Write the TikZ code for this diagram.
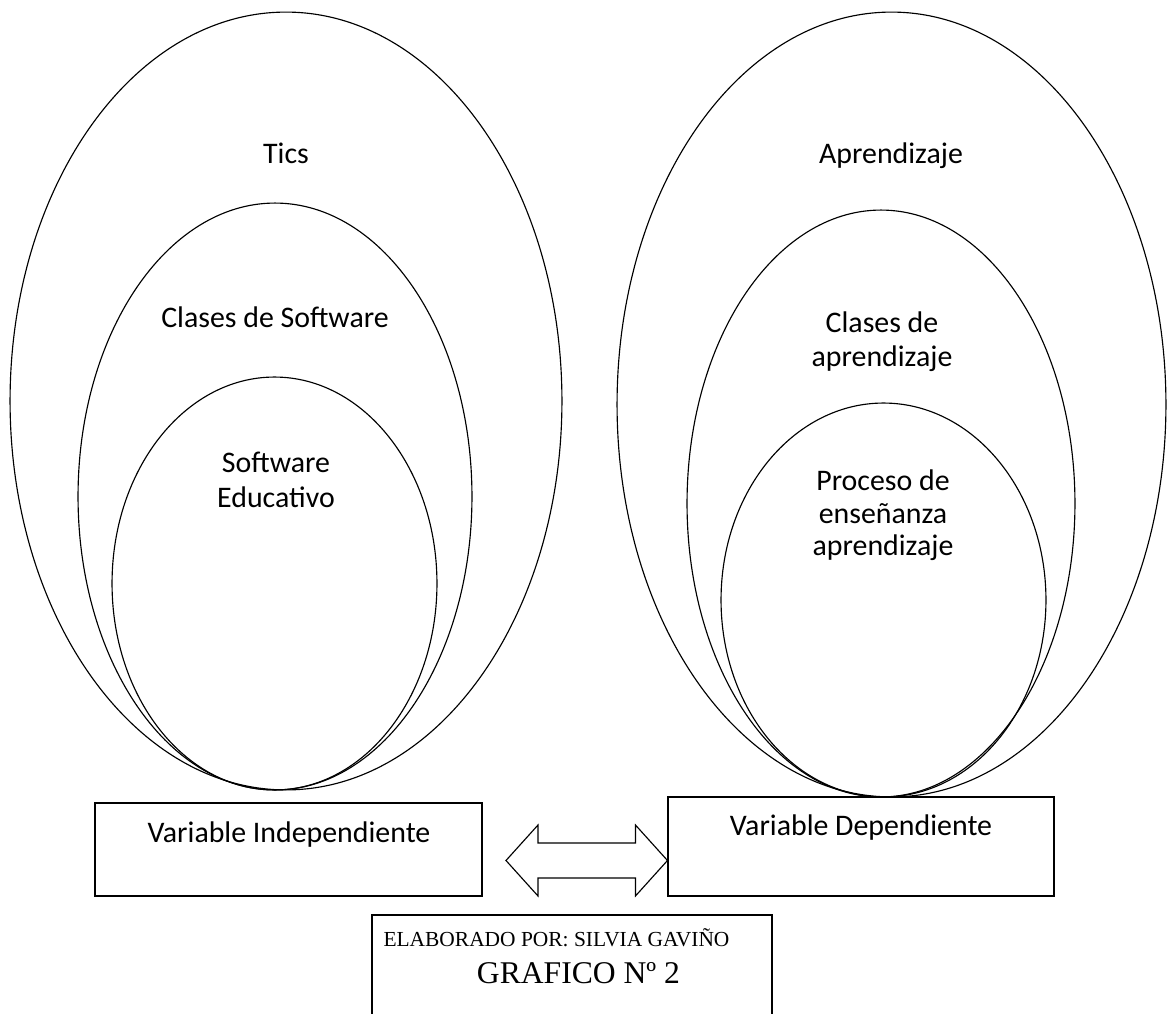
\documentclass[tikz,border=0pt]{standalone}
\usepackage{fontspec}
\setmainfont{Carlito}
\newfontfamily\timesfont{Liberation Serif}
\usetikzlibrary{shapes.geometric, positioning, calc}

\begin{document}
\begin{tikzpicture}[
        x=0.02cm, y=-0.02cm,
        ring/.style={ellipse, draw, line width=0.65pt, inner sep=0pt},
        lbl/.style={font=\fontsize{17}{20}\selectfont, align=center, inner sep=0pt},
        varbox/.style={rectangle, draw, line width=0.65pt, inner sep=0pt},
        dblarrow/.style={draw, line width=0.65pt, line join=miter}
        ]
        \useasboundingbox (0,0) rectangle (1171,1014);
        \clip (0,0) rectangle (1171,1014);

        %% Independent variable (left)
        \node[ring, minimum width=11.04cm, minimum height=15.56cm] (tics) at (286,401) {};
        \node[ring, minimum width=7.88cm, minimum height=11.74cm] (clsoft) at (275,496.5) {};
        \node[ring, minimum width=6.50cm, minimum height=8.26cm] (softedu) at (274.5,583.5) {};
        \node[lbl] (ticsL) at (286,153) {Tics};
        \node[lbl] (clsoftL) at (275,317) {Clases de Software};
        \node[lbl] (softeduL) at (276,462) {Software};
        \node[lbl] (softeduM) at (276,497) {Educativo};

        %% Dependent variable (right)
        \node[ring, minimum width=10.98cm, minimum height=15.70cm] (apr) at (891.5,404.5) {};
        \node[ring, minimum width=7.76cm, minimum height=11.74cm] (clapr) at (881,503.5) {};
        \node[ring, minimum width=6.50cm, minimum height=7.88cm] (proc) at (883.5,600) {};
        \node[lbl] (aprL) at (891,156) {Aprendizaje};
        \node[lbl] (claprL) at (882,322) {Clases de};
        \node[lbl] (claprM) at (882,359) {aprendizaje};
        \node[lbl] (procL) at (883,480) {Proceso de};
        \node[lbl] (procM) at (883,514) {enseñanza};
        \node[lbl] (procN) at (883,548) {aprendizaje};

        %% Variable boxes
        \node[varbox, minimum width=7.74cm, minimum height=1.86cm] (indep) at (288.5,849.5) {};
        \node[lbl] (indepL) at (289,835) {Variable Independiente};
        \node[varbox, minimum width=7.72cm, minimum height=1.98cm] (dep) at (861,846.5) {};
        \node[lbl] (depL) at (861,828) {Variable Dependiente};

        %% Double arrow between the boxes
        \coordinate (tipL) at (506,860.5);
        \coordinate (tipR) at (dep.west |- tipL);
        \draw[dblarrow] (tipL) -- ++(32,-35.5) -- ++(0,18) -- ($(tipR)+(-32,-17.5)$)
            -- ++(0,-18) -- (tipR) -- ++(-32,35.5) -- ++(0,-18)
            -- ($(tipL)+(32,17.5)$) -- ++(0,18) -- cycle;

        %% Credit box
        \node[varbox, minimum width=8cm, minimum height=2.4cm] (credit) at (572,975) {};
        \node[font=\timesfont\fontsize{12.2}{14}\selectfont, inner sep=0pt] (creditA) at (556.5,938) {ELABORADO POR: SILVIA GAVIÑO};
        \node[font=\timesfont\fontsize{18}{21}\selectfont, inner sep=0pt] (creditB) at (578.5,973) {GRAFICO Nº 2};
    \end{tikzpicture}
\end{document}
